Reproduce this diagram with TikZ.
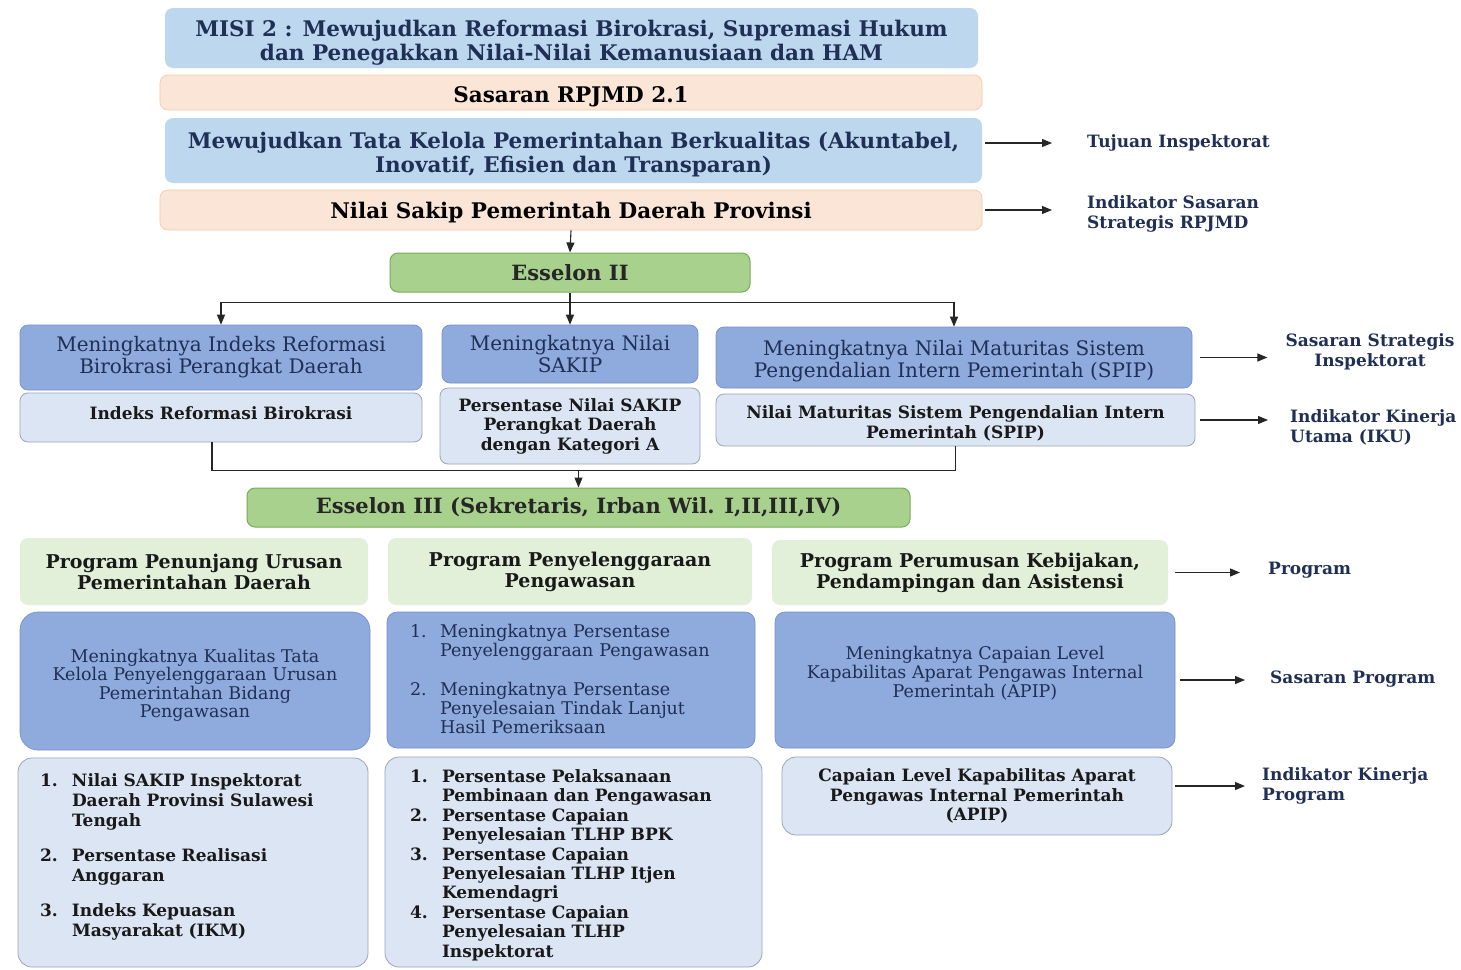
\documentclass[tikz,border=0pt]{standalone}
\usepackage{fontspec}
\setmainfont{DejaVu Serif}
\usetikzlibrary{arrows.meta,calc}
\definecolor{navy}{HTML}{1F2F55}
\definecolor{topblue}{HTML}{BDD7EE}
\definecolor{peach}{HTML}{FBE5D6}
\definecolor{peachline}{HTML}{F3C9AC}
\definecolor{esgreen}{HTML}{A9D18E}
\definecolor{esgreenline}{HTML}{78AD55}
\definecolor{progreen}{HTML}{E2F0D9}
\definecolor{midblue}{HTML}{8FAADC}
\definecolor{midline}{HTML}{7690C8}
\definecolor{lightblue}{HTML}{DCE5F4}
\definecolor{lightline}{HTML}{9AA6B6}
\tikzset{
  box/.style={rectangle, rounded corners=8pt, inner sep=0pt, align=center, text=navy},
  topbox/.style={box, fill=topblue, font=\fontsize{21.5}{24}\selectfont\bfseries},
  peachbox/.style={box, fill=peach, draw=peachline, line width=0.7pt, text=black, font=\fontsize{21.5}{24}\selectfont\bfseries},
  esbox/.style={box, fill=esgreen, draw=esgreenline, line width=1pt, text=black!85, font=\fontsize{21}{24}\selectfont\bfseries},
  midbox/.style={box, fill=midblue, draw=midline, line width=0.7pt, font=\fontsize{20}{22}\selectfont},
  lightbox/.style={box, fill=lightblue, draw=lightline, line width=0.8pt, text=black!90, font=\fontsize{17}{20}\selectfont\bfseries},
  progbox/.style={box, fill=progreen, text=black!90, font=\fontsize{19}{21}\selectfont\bfseries},
  lbl/.style={inner sep=0pt, align=left, anchor=west, text=navy, font=\fontsize{17}{20}\selectfont\bfseries},
  arr/.style={-{Triangle[length=10pt,width=8pt]}, line width=1.1pt, draw=black!85},
  link/.style={line width=1.1pt, draw=black!85}
}
\begin{document}
\begin{tikzpicture}[x=1pt,y=-1pt]
\useasboundingbox[fill=white] (0,0) rectangle (1461,969);
% top chain
\node[topbox, minimum width=813pt, minimum height=60pt, text height=50pt] (misi) at (571.5,38)
  {MISI 2 : Mewujudkan Reformasi Birokrasi, Supremasi Hukum\\dan Penegakkan Nilai-Nilai Kemanusiaan dan HAM};
\node[peachbox, minimum width=822pt, minimum height=35pt, text height=24pt] (sas) at (571,92.5) {Sasaran RPJMD 2.1};
\node[topbox, minimum width=817pt, minimum height=65pt, text height=48pt] (tata) at (573.5,150.5)
  {Mewujudkan Tata Kelola Pemerintahan Berkualitas (Akuntabel,\\Inovatif, Efisien dan Transparan)};
\node[peachbox, minimum width=822pt, minimum height=40pt, text height=20.5pt] (nilai) at (571,210) {Nilai Sakip Pemerintah Daerah Provinsi};
\node[esbox, minimum width=360pt, minimum height=39pt] (es2) at (570,272.5) {Esselon II};
% Esselon II row
\node[midbox, minimum width=402pt, minimum height=65pt] (a1) at (221,357.5)
  {Meningkatnya Indeks Reformasi\\Birokrasi Perangkat Daerah};
\node[midbox, minimum width=256pt, minimum height=58pt] (a2) at (570,354)
  {Meningkatnya Nilai\\SAKIP};
\node[midbox, minimum width=476pt, minimum height=61pt, text height=45pt] (a3) at (954,357.5)
  {Meningkatnya Nilai Maturitas Sistem\\Pengendalian Intern Pemerintah (SPIP)};
\node[lightbox, minimum width=402pt, minimum height=49pt, text height=5pt] (b1) at (221,417.5) {Indeks Reformasi Birokrasi};
\node[lightbox, minimum width=260pt, minimum height=76pt, font=\fontsize{17}{19.5}\selectfont\bfseries] (b2) at (570,426)
  {Persentase Nilai SAKIP\\Perangkat Daerah\\dengan Kategori A};
\node[lightbox, minimum width=479pt, minimum height=52pt, text height=39pt] (b3) at (955.5,420)
  {Nilai Maturitas Sistem Pengendalian Intern\\Pemerintah (SPIP)};
\node[esbox, minimum width=663pt, minimum height=39pt] (es3) at (578.5,507.5)
  {Esselon III (Sekretaris, Irban Wil. I,II,III,IV)};
% programs
\node[progbox, minimum width=348pt, minimum height=67pt] (p1) at (194,571.5)
  {Program Penunjang Urusan\\Pemerintahan Daerah};
\node[progbox, minimum width=364pt, minimum height=67pt] (p2) at (570,571.5)
  {Program Penyelenggaraan\\Pengawasan};
\node[progbox, minimum width=396pt, minimum height=65pt] (p3) at (970,572.5)
  {Program Perumusan Kebijakan,\\Pendampingan dan Asistensi};
% sasaran program
\node[midbox, rounded corners=18pt, minimum width=350pt, minimum height=138pt, text height=77pt, font=\fontsize{17.5}{18.5}\selectfont] (s1) at (195,681)
  {Meningkatnya Kualitas Tata\\Kelola Penyelenggaraan Urusan\\Pemerintahan Bidang\\Pengawasan};
\node[midbox, rounded corners=10pt, minimum width=368pt, minimum height=136pt, inner xsep=23pt, text width=322pt, align=left, font=\fontsize{17.5}{19}\selectfont] (s2) at (571,680)
  {\begin{tabular}{@{}p{30pt}@{}l@{}}
   \noalign{\vskip 4pt}
   1. & Meningkatnya Persentase\\
      & Penyelenggaraan Pengawasan\\[20pt]
   2. & Meningkatnya Persentase\\
      & Penyelesaian Tindak Lanjut\\
      & Hasil Pemeriksaan
   \end{tabular}};
\node[midbox, rounded corners=10pt, minimum width=400pt, minimum height=136pt, text height=38pt, font=\fontsize{17.5}{19}\selectfont] (s3) at (975,680)
  {Meningkatnya Capaian Level\\Kapabilitas Aparat Pengawas Internal\\Pemerintah (APIP)};
% indikator program
\node[lightbox, rounded corners=14pt, minimum width=350pt, minimum height=209pt, inner xsep=22pt, text width=306pt, align=left] (i1) at (193,862.5)
  {\begin{tabular}{@{}p{32pt}@{}l@{}}
   1. & Nilai SAKIP Inspektorat\\
      & Daerah Provinsi Sulawesi\\
      & Tengah\\[15pt]
   2. & Persentase Realisasi\\
      & Anggaran\\[15pt]
   3. & Indeks Kepuasan\\
      & Masyarakat (IKM)\\[10pt]
   \end{tabular}};
\node[lightbox, rounded corners=14pt, minimum width=377pt, minimum height=210pt, inner xsep=25pt, text width=327pt, align=left, font=\fontsize{17}{19.4}\selectfont\bfseries] (i2) at (573.5,862)
  {\begin{tabular}{@{}p{32pt}@{}l@{}}
   \noalign{\vskip 8pt}
   1. & Persentase Pelaksanaan\\
      & Pembinaan dan Pengawasan\\
   2. & Persentase Capaian\\
      & Penyelesaian TLHP BPK\\
   3. & Persentase Capaian\\
      & Penyelesaian TLHP Itjen\\
      & Kemendagri\\
   4. & Persentase Capaian\\
      & Penyelesaian TLHP\\
      & Inspektorat
   \end{tabular}};
\node[lightbox, rounded corners=14pt, minimum width=390pt, minimum height=78pt, font=\fontsize{17}{19.5}\selectfont\bfseries] (i3) at (977,796)
  {Capaian Level Kapabilitas Aparat\\Pengawas Internal Pemerintah\\(APIP)};
% right labels
\node[lbl] (l1) at (1087,143) {Tujuan Inspektorat};
\node[lbl] (l2) at (1087,213.5) {Indikator Sasaran\\Strategis RPJMD};
\node[lbl, anchor=center, align=center] (l3) at (1370,352) {Sasaran Strategis\\Inspektorat};
\node[lbl] (l4) at (1290,427) {Indikator Kinerja\\Utama (IKU)};
\node[lbl] (l5) at (1268,570) {Program};
\node[lbl] (l6) at (1270,679) {Sasaran Program};
\node[lbl] (l7) at (1262,786) {Indikator Kinerja\\Program};
% connectors
\draw[arr] (nilai.south) -- (es2.north);
\coordinate (split) at ($(es2.south)+(0,10)$);
\draw[link] (es2.south) -- (split);
\draw[arr] (split) -| (a1.north);
\draw[arr] (split) -- (a2.north);
\draw[arr] (split) -| (a3.north);
\coordinate (join) at ($(es3.north)+(0,-17)$);
\draw[link] ([xshift=-9pt]b1.south) |- (join) -| (b3.south);
\draw[arr] (join) -- (es3.north);
% side arrows
\draw[arr] ([xshift=3pt]tata.east |- l1.west) -- ([xshift=-35pt]l1.west);
\draw[arr] ([xshift=3pt]nilai.east) -- ([xshift=-35pt]l2.west |- nilai.east);
\draw[arr] ([xshift=8pt]a3.east) -- ([xshift=-18pt]l3.west |- a3.east);
\draw[arr] ([xshift=5pt]b3.east) -- ([xshift=-22pt]l4.west |- b3.east);
\draw[arr] ([xshift=7pt]p3.east) -- ([xshift=-28pt]l5.west |- p3.east);
\draw[arr] ([xshift=5pt]s3.east) -- ([xshift=-25pt]l6.west |- s3.east);
\draw[arr] ([xshift=3pt]i3.east |- l7.west) -- ([xshift=-17pt]l7.west);
\end{tikzpicture}
\end{document}
